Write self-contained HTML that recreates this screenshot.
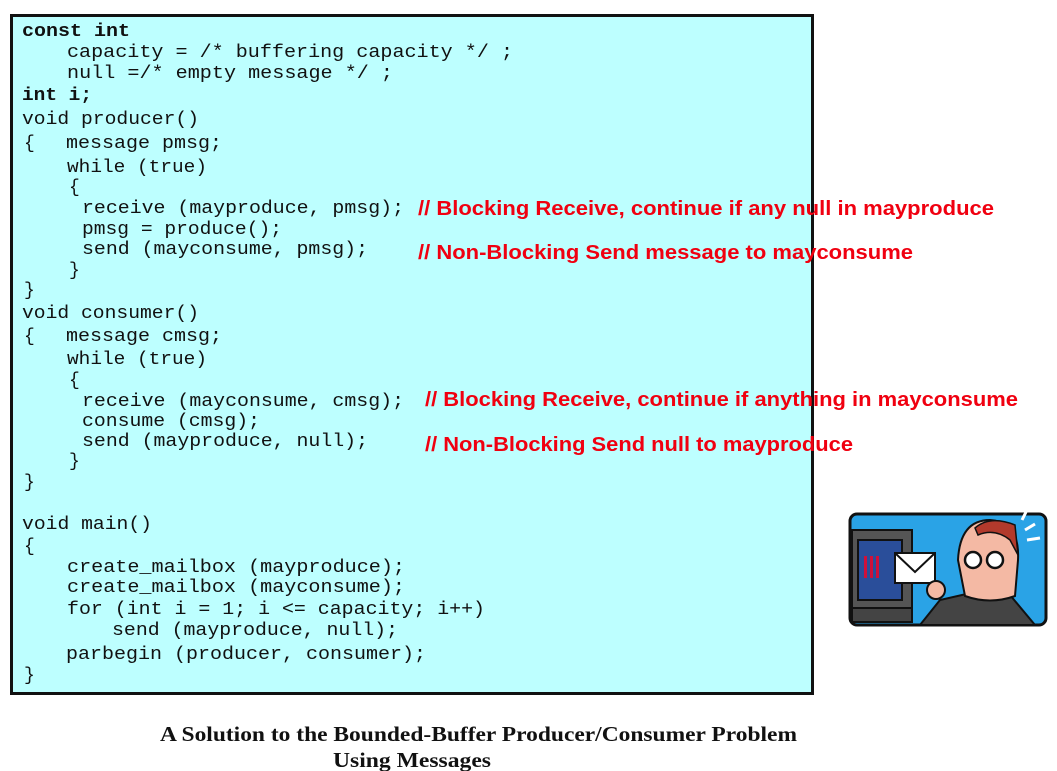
<!DOCTYPE html>
<html><head><meta charset="utf-8"><style>
html,body{margin:0;padding:0;background:#fff;}
svg{display:block}
.c{font-family:"Liberation Mono",monospace;font-size:18px;fill:#111;}
.b{font-weight:bold}
.r{font-family:"Liberation Sans",sans-serif;font-size:20px;font-weight:bold;fill:#f00010;}
.t{font-family:"Liberation Serif",serif;font-size:21px;font-weight:bold;fill:#111;}
</style></head><body>
<svg width="1057" height="771" viewBox="0 0 1057 771">
<rect x="11.5" y="15.5" width="801" height="678" fill="#bdffff" stroke="#111" stroke-width="3"/>
<g class="c" lengthAdjust="spacingAndGlyphs">
<text x="22" y="36" textLength="108" lengthAdjust="spacingAndGlyphs" class="b">const int</text>
<text x="67" y="57" textLength="446" lengthAdjust="spacingAndGlyphs">capacity = /* buffering capacity */ ;</text>
<text x="67" y="78" textLength="326" lengthAdjust="spacingAndGlyphs">null =/* empty message */ ;</text>
<text x="22" y="100" textLength="70" lengthAdjust="spacingAndGlyphs" class="b">int i;</text>
<text x="22" y="124" textLength="177" lengthAdjust="spacingAndGlyphs">void producer()</text>
<text x="24" y="148">{</text>
<text x="66" y="148" textLength="156" lengthAdjust="spacingAndGlyphs">message pmsg;</text>
<text x="67" y="172" textLength="140" lengthAdjust="spacingAndGlyphs">while (true)</text>
<text x="69" y="192">{</text>
<text x="82" y="213" textLength="322" lengthAdjust="spacingAndGlyphs">receive (mayproduce, pmsg);</text>
<text x="82" y="234" textLength="200" lengthAdjust="spacingAndGlyphs">pmsg = produce();</text>
<text x="82" y="254" textLength="286" lengthAdjust="spacingAndGlyphs">send (mayconsume, pmsg);</text>
<text x="69" y="275">}</text>
<text x="24" y="295">}</text>
<text x="22" y="318" textLength="177" lengthAdjust="spacingAndGlyphs">void consumer()</text>
<text x="24" y="341">{</text>
<text x="66" y="341" textLength="156" lengthAdjust="spacingAndGlyphs">message cmsg;</text>
<text x="67" y="364" textLength="140" lengthAdjust="spacingAndGlyphs">while (true)</text>
<text x="69" y="385">{</text>
<text x="82" y="406" textLength="322" lengthAdjust="spacingAndGlyphs">receive (mayconsume, cmsg);</text>
<text x="82" y="426" textLength="178" lengthAdjust="spacingAndGlyphs">consume (cmsg);</text>
<text x="82" y="446" textLength="286" lengthAdjust="spacingAndGlyphs">send (mayproduce, null);</text>
<text x="69" y="466">}</text>
<text x="24" y="487">}</text>
<text x="22" y="529" textLength="130" lengthAdjust="spacingAndGlyphs">void main()</text>
<text x="24" y="551">{</text>
<text x="67" y="572" textLength="338" lengthAdjust="spacingAndGlyphs">create_mailbox (mayproduce);</text>
<text x="67" y="592" textLength="338" lengthAdjust="spacingAndGlyphs">create_mailbox (mayconsume);</text>
<text x="67" y="614" textLength="418" lengthAdjust="spacingAndGlyphs">for (int i = 1; i &lt;= capacity; i++)</text>
<text x="112" y="635" textLength="286" lengthAdjust="spacingAndGlyphs">send (mayproduce, null);</text>
<text x="66" y="659" textLength="360" lengthAdjust="spacingAndGlyphs">parbegin (producer, consumer);</text>
<text x="24" y="680">}</text>
</g>
<text class="r" x="418" y="215" textLength="576" lengthAdjust="spacingAndGlyphs">// Blocking Receive, continue if any null in mayproduce</text>
<text class="r" x="418" y="259" textLength="495" lengthAdjust="spacingAndGlyphs">// Non-Blocking Send message to mayconsume</text>
<text class="r" x="425" y="406" textLength="593" lengthAdjust="spacingAndGlyphs">// Blocking Receive, continue if anything in mayconsume</text>
<text class="r" x="425" y="451" textLength="428" lengthAdjust="spacingAndGlyphs">// Non-Blocking Send null to mayproduce</text>
<text class="t" x="160" y="741" textLength="637" lengthAdjust="spacingAndGlyphs">A Solution to the Bounded-Buffer Producer/Consumer Problem</text>
<text class="t" x="333" y="767" textLength="158" lengthAdjust="spacingAndGlyphs">Using Messages</text>
<!-- picture -->
<g>
<rect x="850" y="514" width="196" height="111" rx="7" fill="#2aa3e6" stroke="#111" stroke-width="3"/>
<rect x="852" y="530" width="60" height="80" fill="#555" stroke="#111" stroke-width="2"/>
<rect x="858" y="540" width="44" height="60" fill="#2a4e9a" stroke="#111" stroke-width="2"/>
<rect x="864" y="556" width="3" height="22" fill="#d0103a"/><rect x="870" y="556" width="3" height="22" fill="#d0103a"/><rect x="876" y="556" width="3" height="22" fill="#d0103a"/>
<rect x="852" y="608" width="60" height="14" fill="#444" stroke="#111" stroke-width="2"/>
<path d="M920 625 L940 600 L975 592 L1010 595 L1035 625 Z" fill="#444" stroke="#111" stroke-width="2"/>
<path d="M958 560 Q960 520 990 520 Q1020 522 1018 560 L1015 596 Q990 605 965 596 Z" fill="#f4b9a4" stroke="#111" stroke-width="2"/>
<path d="M975 528 Q990 515 1015 525 L1018 555 L1010 540 Q995 528 978 535 Z" fill="#b23a2c" stroke="#111" stroke-width="1.5"/>
<circle cx="973" cy="560" r="8" fill="#fff" stroke="#111" stroke-width="2.5"/>
<circle cx="995" cy="560" r="8" fill="#fff" stroke="#111" stroke-width="2.5"/>
<rect x="895" y="553" width="40" height="30" fill="#fff" stroke="#111" stroke-width="2"/>
<path d="M895 553 L915 572 L935 553" fill="none" stroke="#111" stroke-width="2"/>
<circle cx="936" cy="590" r="9" fill="#f4b9a4" stroke="#111" stroke-width="2"/>
<path d="M1025 530 L1035 524 M1027 540 L1040 538 M1022 520 L1026 512" stroke="#fff" stroke-width="3"/>
</g>
</svg>
</body></html>
